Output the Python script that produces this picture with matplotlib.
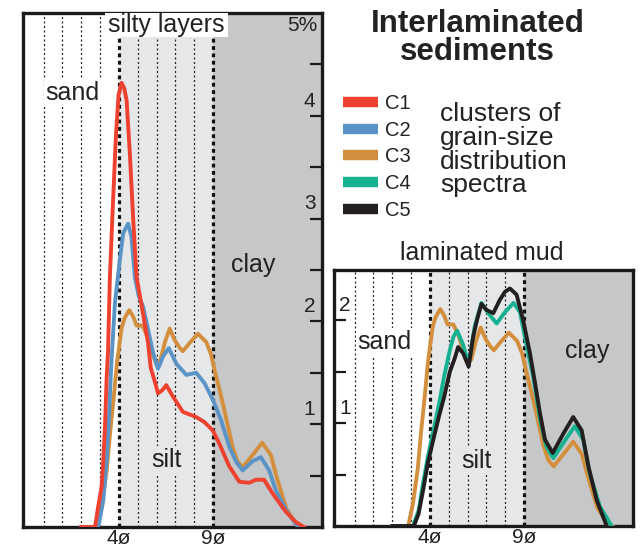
import matplotlib
matplotlib.use("Agg")
import matplotlib.pyplot as plt
from matplotlib.lines import Line2D
from matplotlib.patches import Rectangle

plt.rcParams["font.family"] = ["Liberation Sans", "DejaVu Sans"]

# ---- grain-size distribution spectra (phi units vs. percent) ----
series_names = ["C1", "C2", "C3", "C4", "C5"]
series_colors = ["#ee4130", "#5a93c5", "#d38f3d", "#15b190", "#231f20"]

c1_phi = [2.0, 2.73, 2.9, 3.08, 3.17, 3.26, 3.35, 3.42, 3.52, 3.66, 3.84, 3.98,
          4.14, 4.28, 4.41, 4.58, 4.76, 4.94, 5.25, 5.55, 5.69, 5.9, 6.08, 6.3,
          6.52, 6.87, 7.4, 8.11, 8.55, 8.99, 9.34, 9.87, 10.4, 10.93, 11.29,
          11.72, 12.16, 12.87, 13.4, 13.84]
c1_pct = [0, 0, 0.2, 0.39, 0.65, 0.98, 1.46, 1.7, 2.43, 3.05, 3.8, 4.2,
          4.32, 4.27, 4.15, 3.64, 2.99, 2.43, 2.11, 1.79, 1.55, 1.42, 1.3, 1.33,
          1.38, 1.27, 1.12, 1.07, 1.02, 0.94, 0.81, 0.59, 0.44, 0.43, 0.46,
          0.46, 0.33, 0.15, 0.05, 0]

c2_phi = [2.0, 2.9, 3.17, 3.35, 3.48, 3.6, 3.79, 4.05, 4.23, 4.49, 4.67, 4.85,
          5.05, 5.29, 5.55, 5.81, 6.08, 6.35, 6.65, 7.05, 7.58, 8.11, 8.55,
          8.99, 9.43, 9.87, 10.25, 10.58, 11.11, 11.55, 11.99, 12.34, 12.87,
          13.4, 13.6]
c2_pct = [0, 0, 0.26, 0.65, 1.1, 1.6, 2.18, 2.6, 2.86, 2.95, 2.82, 2.43,
          2.25, 2.14, 1.92, 1.7, 1.54, 1.66, 1.74, 1.59, 1.48, 1.5, 1.4,
          1.24, 1.04, 0.78, 0.63, 0.55, 0.64, 0.68, 0.55, 0.36, 0.17,
          0.03, 0]

c3_phi = [2.0, 2.85, 3.1, 3.35, 3.55, 3.72, 3.9, 4.14, 4.3, 4.55, 4.75, 4.94,
          5.25, 5.55, 5.8, 6.0, 6.2, 6.45, 6.7, 6.96, 7.2, 7.4, 7.76, 8.2,
          8.64, 8.9, 9.12, 9.4, 9.63, 10.04, 10.3, 10.58, 11.11, 11.62, 12.08,
          12.43, 12.9, 13.45, 13.7]
c3_pct = [0, 0, 0.22, 0.55, 0.95, 1.25, 1.6, 1.93, 2.03, 2.11, 2.05, 1.96,
          1.96, 1.84, 1.68, 1.58, 1.62, 1.8, 1.93, 1.82, 1.75, 1.71, 1.79, 1.88,
          1.8, 1.68, 1.5, 1.3, 1.12, 0.78, 0.64, 0.58, 0.7, 0.82, 0.7,
          0.46, 0.18, 0.02, 0]

c4_phi = [2.0, 3.1, 3.4, 3.64, 3.9, 4.18, 4.5, 4.75, 5.06, 5.25, 5.45, 5.77,
          6.06, 6.38, 6.74, 7.1, 7.55, 7.99, 8.45, 8.79, 9.14, 9.5, 9.86,
          10.2, 10.56, 11.1, 11.7, 12.15, 12.5, 13.04, 13.66]
c4_pct = [0, 0, 0.15, 0.42, 0.68, 0.92, 1.2, 1.45, 1.71, 1.84, 1.9, 1.76,
          1.57, 1.94, 2.17, 2.07, 1.97, 2.08, 2.17, 2.08, 1.76, 1.45, 1.03,
          0.77, 0.66, 0.81, 0.97, 0.84, 0.51, 0.19, 0]

c5_phi = [2.0, 3.15, 3.4, 3.64, 3.9, 4.18, 4.5, 4.75, 5.06, 5.3, 5.5, 5.77,
          6.06, 6.3, 6.5, 6.74, 7.02, 7.37, 7.72, 8.0, 8.26, 8.61, 8.96, 9.32,
          9.6, 9.85, 10.12, 10.53, 11.1, 11.62, 12.07, 12.43, 12.87, 13.4]
c5_pct = [0, 0, 0.12, 0.35, 0.62, 0.84, 1.08, 1.25, 1.5, 1.62, 1.74, 1.68,
          1.55, 1.84, 2.0, 2.16, 2.1, 2.07, 2.2, 2.28, 2.31, 2.25, 2.0, 1.68,
          1.38, 1.1, 0.84, 0.71, 0.9, 1.06, 0.93, 0.58, 0.25, 0]

# grain-size class boundaries (phi)
sand_lines = [0, 1, 2, 3]
silt_lines = [5, 6, 7, 8]
class_bounds = [4, 9]
bound_labels = ["4ø", "9ø"]

left_ticks = [0.5, 1, 1.5, 2, 2.5, 3, 3.5, 4, 4.5]
left_labels = [1, 2, 3, 4]
right_ticks = [0.5, 1, 1.5, 2]
right_labels = [1, 2]

LIGHT = "#e6e7e8"
DARK = "#c6c7c9"
INK = "#222222"
XLIM = (-1.1, 14.8)

W, H = 641, 547
fig = plt.figure(figsize=(W / 100, H / 100), dpi=100)


def px_axes(x0, y0, x1, y1):
    return fig.add_axes([x0 / W, 1 - y1 / H, (x1 - x0) / W, (y1 - y0) / H])


def base_panel(ax, ytop, ticks, tick_side, silt_top):
    ax.set_xlim(*XLIM)
    ax.set_ylim(0, ytop)
    ax.axvspan(class_bounds[0], class_bounds[1], ymax=silt_top, color=LIGHT,
               lw=0, zorder=0)
    ax.axvspan(class_bounds[1], XLIM[1], color=DARK, lw=0, zorder=0)
    for x in sand_lines + silt_lines:
        top = 1 if x in sand_lines else silt_top
        ax.axvline(x, ymax=top, color="#222222", lw=0.9, dashes=(1.6, 2.0),
                   zorder=1)
    for x in class_bounds:
        ax.axvline(x, ymax=silt_top, color="#111111", lw=2.3,
                   dashes=(1.2, 1.1), zorder=2)
    for s in ax.spines.values():
        s.set_linewidth(2.4)
        s.set_color("#1a1a1a")
    ax.set_xticks(class_bounds)
    ax.set_xticklabels(bound_labels, fontsize=15, color=INK)
    ax.tick_params(axis="x", length=0, pad=1.5)
    ax.set_yticks(ticks)
    if tick_side == "right":
        ax.yaxis.tick_right()
    ax.tick_params(axis="y", direction="in", length=8.5, width=1.6,
                   color="#1a1a1a", labelleft=False, labelright=False)


# ---- left panel: interlaminated silty layers ----
axL = px_axes(23, 13, 322, 527)
base_panel(axL, 5.0, left_ticks, "right", silt_top=(527 - 37) / 514)
axL.add_patch(Rectangle(((105 - 23) / 299, (527 - 37) / 514),
                        (228 - 105) / 299, 1, transform=axL.transAxes,
                        fc="white", ec="none", zorder=3, clip_on=True))
for phi, pct, col in [(c3_phi, c3_pct, series_colors[2]),
                      (c2_phi, c2_pct, series_colors[1]),
                      (c1_phi, c1_pct, series_colors[0])]:
    axL.plot(phi, pct, color=col, lw=2.8, zorder=4, solid_joinstyle="round")
for v in left_labels:
    axL.text(0.978, v + 0.05, str(v), transform=axL.get_yaxis_transform(),
             ha="right", va="bottom", fontsize=15, color=INK, zorder=5)
axL.text(0.985, 4.97, "5%", transform=axL.get_yaxis_transform(), ha="right",
         va="top", fontsize=15, color=INK, zorder=5)
axL.text(6.5, 4.88, "silty layers", ha="center", va="center", fontsize=18,
         color=INK, zorder=5)
axL.text(1.55, 4.22, "sand", ha="center", va="center", fontsize=18,
         color=INK, zorder=5,
         bbox=dict(boxstyle="square,pad=0.08", fc="white", ec="none"))
axL.text(6.55, 0.65, "silt", ha="center", va="center", fontsize=18,
         color=INK, zorder=5,
         bbox=dict(boxstyle="square,pad=0.08", fc=LIGHT, ec="none"))
axL.text(11.16, 2.55, "clay", ha="center", va="center", fontsize=18,
         color=INK, zorder=5)

# ---- right panel: laminated mud ----
axR = px_axes(334, 270, 633, 526)
base_panel(axR, 2.49, right_ticks, "left", silt_top=1)
for phi, pct, col in [(c3_phi, c3_pct, series_colors[2]),
                      (c4_phi, c4_pct, series_colors[3]),
                      (c5_phi, c5_pct, series_colors[4])]:
    axR.plot(phi, pct, color=col, lw=2.8, zorder=4, solid_joinstyle="round")
for v in right_labels:
    axR.text(0.018, v + 0.05, str(v), transform=axR.get_yaxis_transform(),
             ha="left", va="bottom", fontsize=15, color=INK, zorder=5)
axR.text(1.6, 1.79, "sand", ha="center", va="center", fontsize=18,
         color=INK, zorder=5,
         bbox=dict(boxstyle="square,pad=0.08", fc="white", ec="none"))
axR.text(6.45, 0.63, "silt", ha="center", va="center", fontsize=18,
         color=INK, zorder=5,
         bbox=dict(boxstyle="square,pad=0.08", fc=LIGHT, ec="none"))
axR.text(12.35, 1.70, "clay", ha="center", va="center", fontsize=18,
         color=INK, zorder=5)
fig.text(482 / W, 1 - 253 / H, "laminated mud", ha="center", va="center",
         fontsize=18, color=INK)

# ---- title, legend and description ----
fig.text(477.5 / W, 1 - 24 / H, "Interlaminated", ha="center", va="center",
         fontsize=22.5, fontweight="bold", color=INK)
fig.text(477.5 / W, 1 - 52 / H, "sediments", ha="center", va="center",
         fontsize=22.5, fontweight="bold", color=INK)

handles = [Line2D([], [], color=c, lw=7.5, solid_capstyle="butt")
           for c in series_colors]
fig.legend(handles, series_names, loc="upper left",
           bbox_to_anchor=(343 / W, 1 - 94 / H), frameon=False,
           fontsize=14.5, handlelength=1.75, handletextpad=0.35,
           labelspacing=0.38, borderpad=0, borderaxespad=0,
           labelcolor=INK)

fig.text(440 / W, 1 - 102 / H,
         "clusters of\ngrain-size\ndistribution\nspectra",
         ha="left", va="top", fontsize=19, linespacing=0.99,
         color=INK)

fig.savefig("out.png", dpi=100)
